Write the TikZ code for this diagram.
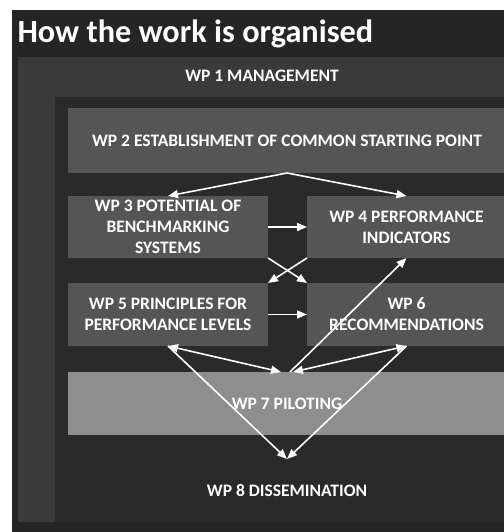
\documentclass[tikz,border=0pt]{standalone}
\usepackage{fontspec}
\setmainfont{Carlito}
\usetikzlibrary{arrows.meta}

\definecolor{frameDark}{HTML}{252525}
\definecolor{mgmtGrey}{HTML}{3A3A3A}
\definecolor{coreDark}{HTML}{2A2A2A}
\definecolor{boxGrey}{HTML}{555555}
\definecolor{pilotGrey}{HTML}{8E8E8E}

\begin{document}
\begin{tikzpicture}[x=1bp, y=-1bp,
  area/.style={anchor=north west, inner sep=0pt, outer sep=0pt},
  wp box/.style={area, fill=boxGrey, text=white, align=center,
                 font=\bfseries\fontsize{17.5bp}{21bp}\selectfont},
  wp text/.style={text=white, font=\bfseries\fontsize{17.5bp}{21bp}\selectfont},
  flow/.style={draw=white, line width=1.6bp, -{Triangle[length=10bp,width=8bp]}},
  both flow/.style={flow, {Triangle[length=10bp,width=8bp]}-{Triangle[length=10bp,width=8bp]}}]

  \useasboundingbox[fill=white] (0,0) rectangle (504,532);

  % frames
  \node[area, fill=frameDark, minimum width=494bp, minimum height=522bp] (frame) at (12,10) {};
  \node[area, fill=mgmtGrey, minimum width=488bp, minimum height=465bp] (wp1) at (18,57) {};
  \node[area, fill=coreDark, minimum width=451bp, minimum height=425bp] (core) at (55,97) {};

  \node[anchor=base west, text=white, font=\bfseries\fontsize{32.3bp}{38bp}\selectfont] (title) at (14,43) {How the work is organised};
  \node[wp text] (wp1text) at (262,76) {WP 1 MANAGEMENT};

  % work packages
  \node[wp box, minimum width=438bp, minimum height=65bp] (wp2) at (68,108) {WP 2 ESTABLISHMENT OF COMMON STARTING POINT};
  \node[wp box, minimum width=200bp, minimum height=62bp] (wp3) at (68,196) {WP 3 POTENTIAL OF\\BENCHMARKING\\SYSTEMS};
  \node[wp box, minimum width=199bp, minimum height=62bp] (wp4) at (307,196) {WP 4 PERFORMANCE\\INDICATORS};
  \node[wp box, minimum width=200bp, minimum height=63bp] (wp5) at (68,283) {WP 5 PRINCIPLES FOR\\PERFORMANCE LEVELS};
  \node[wp box, minimum width=199bp, minimum height=63bp] (wp6) at (307,283) {WP 6\\RECOMMENDATIONS};
  \node[wp box, fill=pilotGrey, minimum width=438bp, minimum height=63bp] (wp7) at (68,372) {WP 7 PILOTING};
  \node[wp box, fill=coreDark, minimum width=438bp, minimum height=63bp] (wp8) at (68,459) {WP 8 DISSEMINATION};

  % connectors
  \draw[flow] (wp2.south) -- (wp3.north);
  \draw[flow] (wp2.south) -- (wp4.north);
  \draw[flow] (wp3.east) -- (wp4.west);
  \draw[flow] (wp3.south east) -- (wp6.north west);
  \draw[flow] (wp4.south west) -- (wp5.north east);
  \draw[flow] (wp5.east) -- (wp6.west);
  \draw[both flow] (wp5.south) -- ([xshift=-6bp]wp7.north);
  \draw[both flow] (wp6.south) -- ([xshift=6bp]wp7.north);
  \draw[flow] ([xshift=3bp]wp7.north) -- (wp4.south);
  \draw[flow] (wp5.south) -- (wp8.north);
  \draw[flow] (wp6.south) -- (wp8.north);
\end{tikzpicture}
\end{document}
